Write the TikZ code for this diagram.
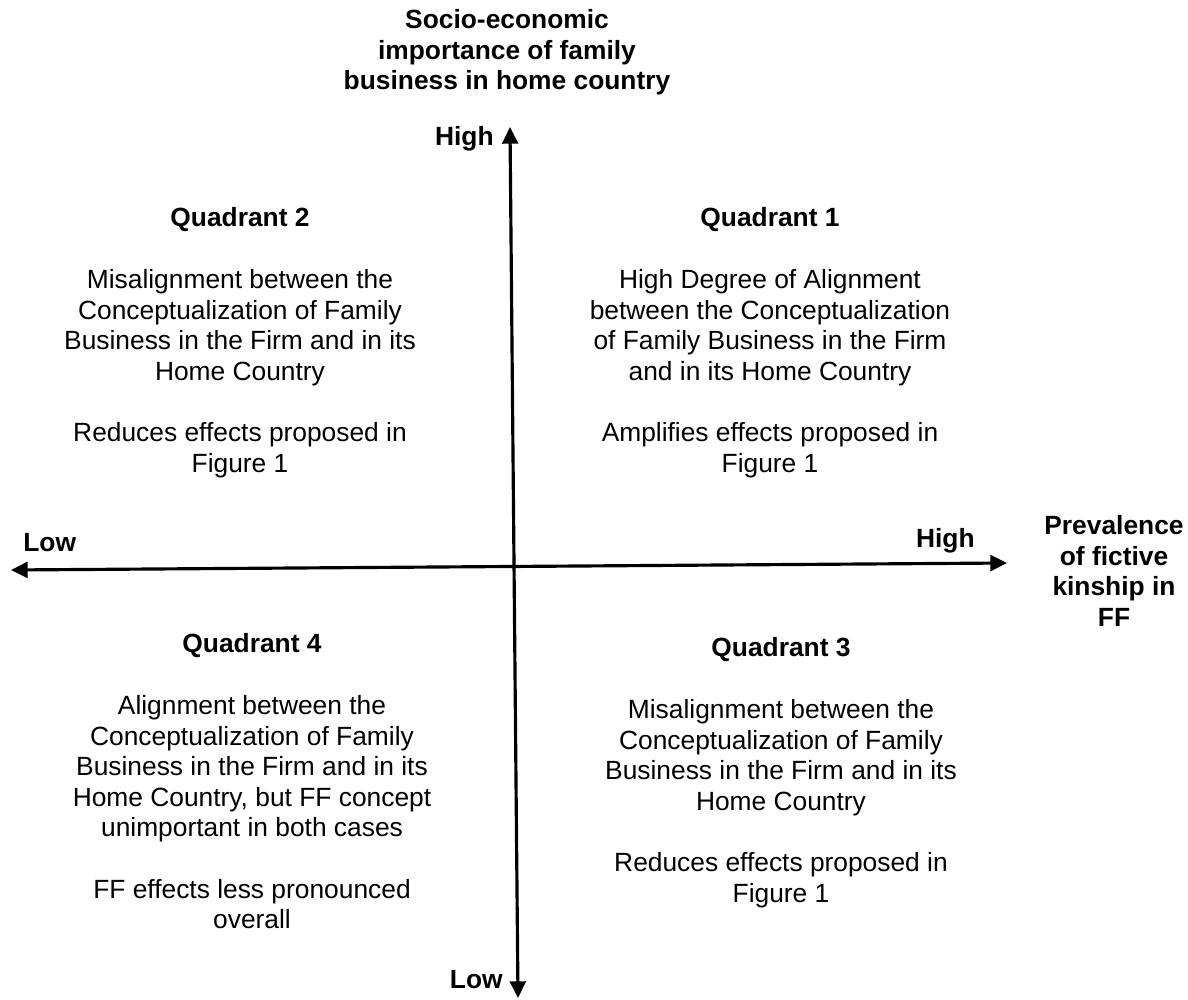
\documentclass[tikz,border=0pt]{standalone}
\usepackage{fontspec}
\setmainfont{Liberation Sans}
\usetikzlibrary{positioning, arrows.meta}
\tikzset{
    every node/.style={inner sep=0pt, font=\fontsize{15}{17.4}\selectfont}, % text like the figure
    axis/.style={line width=1.8pt, {Triangle[length=9.5pt,width=9pt]}-{Triangle[length=9.5pt,width=9pt]}}, % arrows at both ends
    axislabel/.style={font=\fontsize{15}{17.4}\selectfont\bfseries},
    quadrant/.style={align=center, anchor=north},
}

\begin{document}
\begin{tikzpicture}[x=0.02cm, y=-0.02cm]
    \useasboundingbox (0,0) rectangle (1188,1000);
    % the two axes
    \coordinate (vtop) at (510,127);
    \coordinate (vbot) at (518,998);
    \coordinate (hleft) at (11,570);
    \coordinate (hright) at (1007,563);
    \draw[axis] (vbot) -- (vtop);
    \draw[axis] (hleft) -- (hright);
    % axis names and ends
    \node[axislabel, align=center, anchor=north] (ytitle) at (507,9)
        {Socio-economic\\importance of family\\business in home country};
    \node[axislabel, anchor=base east] (yhigh) at (494,146) {High};
    \node[axislabel, anchor=base east] (ylow) at (503,988) {Low};
    \node[axislabel, anchor=base west] (xlow) at (23,552) {Low};
    \node[axislabel, anchor=base east] (xhigh) at (975,547) {High};
    \node[axislabel, align=center, anchor=north] (xtitle) at (1114,515)
        {Prevalence\\of fictive\\kinship in\\FF};
    % the four quadrants
    \node[quadrant] (q2) at (240,207) {\textbf{Quadrant 2}\\[18pt]
        Misalignment between the\\Conceptualization of Family\\Business in the Firm and in its\\Home Country\\[17.4pt]
        Reduces effects proposed in\\Figure 1};
    \node[quadrant] (q1) at (770,207) {\textbf{Quadrant 1}\\[18pt]
        High Degree of Alignment\\between the Conceptualization\\of Family Business in the Firm\\and in its Home Country\\[17.4pt]
        Amplifies effects proposed in\\Figure 1};
    \node[quadrant] (q4) at (252,633) {\textbf{Quadrant 4}\\[18pt]
        Alignment between the\\Conceptualization of Family\\Business in the Firm and in its\\Home Country, but FF concept\\unimportant in both cases\\[17.4pt]
        FF effects less pronounced\\overall};
    \node[quadrant] (q3) at (781,637) {\textbf{Quadrant 3}\\[18pt]
        Misalignment between the\\Conceptualization of Family\\Business in the Firm and in its\\Home Country\\[17.4pt]
        Reduces effects proposed in\\Figure 1};
\end{tikzpicture}
\end{document}
